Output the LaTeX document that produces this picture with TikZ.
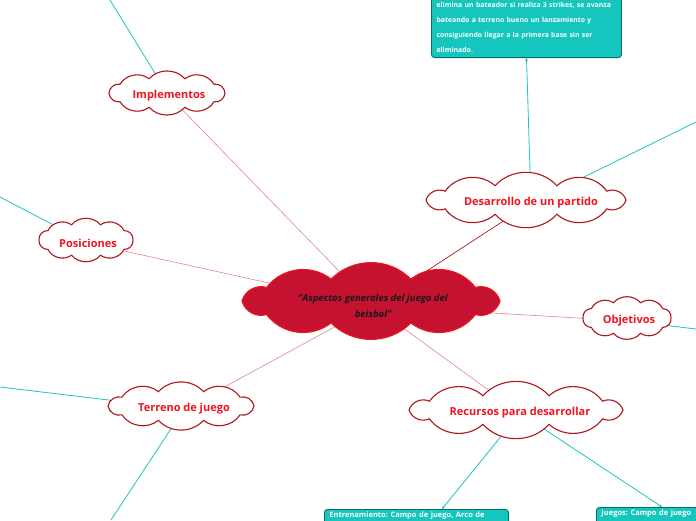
\documentclass[tikz,border=0pt]{standalone}
\usepackage{fontspec}
\setmainfont{Open Sans}
\frenchspacing
\usetikzlibrary{arrows.meta, calc, backgrounds}
\definecolor{cloudrim}{HTML}{B0141C}
\definecolor{topicred}{HTML}{F0141E}
\definecolor{corefill}{HTML}{C41230}
\definecolor{corerim}{HTML}{EC1420}
\definecolor{linkred}{HTML}{E08888}
\definecolor{linkdark}{HTML}{B01818}
\definecolor{teal}{HTML}{1FC4BE}
\definecolor{boxfill}{HTML}{14C6BE}
\definecolor{boxrim}{HTML}{0B6E6A}

% puffy outline: centre, half width, half height, puffs, bend
\newcommand{\puffcloud}[6][puff]{%
  \path[#1, shift={(#2)}] (0:#3 and #4)
    \foreach \k in {1,...,#5} { to[bend left=#6] ({\k*360/#5}:#3 and #4) } -- cycle;}

\tikzset{
  puff/.style={draw=cloudrim, line width=1.1pt, fill=white},
  corepuff/.style={draw=corerim, line width=1.2pt, fill=corefill},
  topic/.style={text=topicred, inner sep=0pt,
    font=\bfseries\fontsize{11}{13}\selectfont},
  core/.style={text=black!90, inner sep=0pt, align=center,
    font=\bfseries\itshape\fontsize{9.5}{16}\selectfont},
  note/.style={draw=boxrim, line width=0.9pt, fill=boxfill, rounded corners=3pt,
    text=white, align=left, inner sep=5pt,
    font=\bfseries\fontsize{6.9}{15}\selectfont},
  stub/.style={note, text width=174pt, anchor=north west, inner ysep=2pt,
    text depth=14pt, font=\bfseries\fontsize{7.5}{10}\selectfont},
  link/.style={linkred, line width=0.6pt},
  twig/.style={teal, line width=0.8pt},
  pointer/.style={teal, line width=0.8pt, -{Stealth[length=3pt, width=3pt]}}
}

\begin{document}
\begin{tikzpicture}[x=1pt, y=-1pt]
  \useasboundingbox (0,0) rectangle (696,520);
  \clip (0,0) rectangle (696,520);

  % central idea and main topics
  \node[core] (cen) at (373,306) {"Aspectos generales del juego del\\beisbol"};
  \node[topic] (impl) at (169,96) {Implementos};
  \node[topic] (pos) at (88,243) {Posiciones};
  \node[topic] (desa) at (531,203) {Desarrollo de un partido};
  \node[topic] (obj) at (629,321) {Objetivos};
  \node[topic] (terr) at (184,409) {Terreno de juego};
  \node[topic] (recu) at (520,413) {Recursos para desarrollar};

  % teal boxes
  \node[note, text width=180pt, anchor=south] (reglas) at (526.5,58)
    {elimina un bateador si realiza 3 strikes, se avanza\\
     bateando a terreno bueno un lanzamiento y\\
     consiguiendo llegar a la primera base sin ser\\
     eliminado.};
  \node[stub] (entreno) at (324,509) {Entrenamiento: Campo de juego, Arco de};
  \node[stub] (juegos) at (596,507) {Juegos: Campo de juego};

  % loose ends off the page
  \coordinate (impl up) at (110,0);
  \coordinate (pos left) at (0,197);
  \coordinate (terr left) at (0,387);
  \coordinate (terr down) at (111,520);
  \coordinate (desa right) at (696,122);
  \coordinate (obj right) at (696,329);

  \begin{scope}[on background layer]
    % connectors
    \draw[link] (cen.center) -- (impl.center);
    \draw[link] (cen.center) -- (pos.center);
    \draw[link] (cen.center) -- (obj.center);
    \draw[link] (cen.center) -- (terr.center);
    \draw[link] (cen.center) -- (recu.center);
    \draw[linkdark, line width=0.7pt] (cen.center) -- (desa.center);

    \draw[twig] (impl.center) -- (impl up);
    \draw[twig] (pos.center) -- (pos left);
    \draw[twig] (terr.center) -- (terr left);
    \draw[twig] (terr.center) -- (terr down);
    \draw[twig] (desa.center) -- (desa right);
    \draw[twig] (obj.center) -- (obj right);
    \draw[pointer] (desa.center) -- (reglas.south);
    \draw[pointer] (recu.center) -- ($(entreno.north west)+(118,0)$);
    \draw[pointer] (recu.center) -- ($(juegos.north west)+(66,0)$);

    % cloud outlines
    \puffcloud[corepuff]{371,301}{129}{23}{10}{45}
    \puffcloud{167,93}{58}{15}{10}{48}
    \puffcloud{86,240}{47}{16}{10}{50}
    \puffcloud{526,200}{100}{15}{10}{48}
    \puffcloud{627,318}{44}{16}{10}{50}
    \puffcloud{181,406}{73}{15}{10}{48}
    \puffcloud{516,410}{107}{15}{10}{48}
  \end{scope}
\end{tikzpicture}
\end{document}
